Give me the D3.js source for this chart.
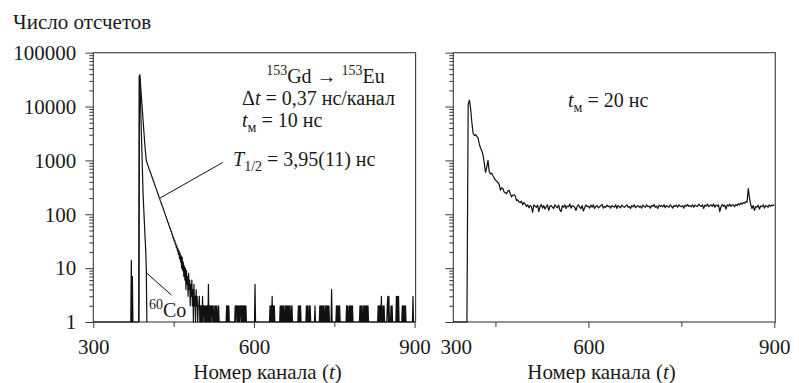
<!DOCTYPE html>
<html><head><meta charset="utf-8">
<script src="https://cdn.jsdelivr.net/npm/d3@7"></script>
</head><body style="margin:0">
<svg id="c" width="799" height="383" font-family="Liberation Serif" style="font-family:'Liberation Serif'"></svg>
<script>
// ---------- DATA ----------
// Left panel: counts per channel, channel 300..900 (step 1)
const leftStart = 300;
const leftCounts = [
1,1,1,1,1,1,1,1,1,1, 1,1,1,1,1,1,1,1,1,1, 1,1,1,1,1,1,1,1,1,1,
1,1,1,1,1,1,1,1,1,1, 1,1,1,1,1,1,1,1,1,1, 1,1,1,1,1,1,1,1,1,1,
1,1,1,1,1,1,1,1,1,1,
1,14,1,7,1,1,1,1,1,1,
1,1,1,1,1,1,36000,39000,28000,20000,
14500,10500,7600,5500,4000,2900,2100,1600,1250,1000,
920,860,800,760,700,670,620,590,545,515,
480,455,420,400,370,350,325,305,290,268,
255,235,222,205,195,180,172,158,150,140,
133,122,118,106,103,93,90,82,79,71,
70,63,61,55,54,48,48,42,42,36,
37,32,33,28,29,24,26,21,23,18,
21,15,19,13,17,10,16,9,13,7,
11,6,10,4,9,5,7,3,8,4,
6,2,5,3,6,2,4,1,5,2,
3,1,4,2,3,1,2,2,3,1,
2,1,2,1,3,1,2,2,1,2,
1,2,1,2,1,5,1,2,1,2,
1,2,2,1,2,1,1,2,1,2,
1,2,1,1,2,1,1,1,1,1,
1,1,1,1,1,1,1,1,1,2,
1,2,1,2,1,1,1,1,1,1,
1,1,1,1,1,2,1,2,2,1,
2,1,2,1,2,2,1,2,1,2,
1,2,1,2,1,2,1,1,1,1,
1,1,1,1,1,1,1,1,1,1,
1,1,5,1,1,1,1,1,1,1,
1,1,1,1,1,1,1,1,1,1,
1,1,1,1,1,1,1,1,1,1,
2,1,2,1,3,1,2,1,2,1,
1,1,1,1,1,1,1,1,1,2,
1,2,1,2,1,2,1,1,2,1,
2,1,2,1,2,1,2,1,1,2,
1,2,1,1,1,1,1,1,1,1,
1,1,1,2,1,2,1,2,1,1,
1,1,1,1,1,1,1,1,2,1,
2,1,1,2,1,2,1,1,1,1,
1,1,1,1,2,1,1,1,1,1,
1,1,1,2,1,2,1,2,1,2,
1,2,1,1,2,1,2,1,2,1,
2,1,1,1,1,4,1,1,1,1,
1,1,1,1,2,1,2,1,2,1,
2,1,1,1,1,1,1,1,1,1,
1,1,1,2,1,2,1,1,2,1,
2,1,2,1,2,1,1,1,1,1,
1,1,1,1,1,1,1,1,2,1,
2,1,2,1,1,2,1,2,1,2,
1,2,1,2,1,1,1,1,1,1,
1,1,1,1,1,1,1,1,1,1,
1,1,2,1,2,1,2,1,3,1,
1,2,1,2,1,1,1,1,1,2,
3,1,3,1,1,1,2,1,2,1,
1,1,1,1,1,1,3,1,3,1,
3,1,1,1,1,1,1,2,1,2,
1,2,1,2,1,1,1,1,1,1,
1,1,1,1,1,1,1,3,1,1,
1
];
// Left panel: 60Co prompt curve, channels 385..400
const coStart = 385;
const coCounts = [1,37000,30000,14000,6000,2700,1200,520,230,140,85,52,32,20,9,1];

// Right panel: counts every 2 channels starting at channel 382
const rightStart = 382, rightStep = 2;
const rightCounts = [
1,1,1,1,1,1,1,1,1,1,1,1,
11000,13200,9000,5000,3200,2900,3000,2800,2600,2000,
1700,1500,1250,900,600,750,1000,620,560,580,
520,470,430,410,390,360,280,310,300,260,
250,240,270,280,240,210,225,230,220,180,
185,170,165,175,150,165,155,
140,150,132,145,138,108,150,142,135,148,
112,140,152,130,145,125,138,150,118,142,
145,135,128,150,140,132,148,120,112,145,
135,150,128,142,138,155,130,145,140,135,
118,142,150,135,128,145,115,132,150,138,
142,130,148,135,150,128,140,145,132,138,
145,152,130,140,135,148,138,142,130,145,
140,135,150,128,145,138,132,148,140,135,
142,150,135,140,128,145,138,150,132,140,
145,135,142,130,148,140,135,150,138,142,
130,145,140,152,135,142,128,148,140,145,
138,150,132,145,140,135,150,142,130,145,
140,148,135,150,142,138,145,130,148,140,
152,140,145,138,150,135,148,142,140,155,
145,140,150,128,148,142,155,138,145,150,
140,155,135,148,142,150,112,138,152,140,
148,125,150,142,155,140,148,150,138,152,
145,158,150,162,155,165,160,172,168,300,
200,150,128,145,118,140,135,148,125,142,
138,150,130,145,142,135,150,140,148,145,
150
];

// Axis ticks / labels
const yMajorTicks = [1, 10, 100, 1000, 10000, 100000];
const xMajorTicks = [300, 600, 900];
const xMinorTicks = [450, 750];
const rightMajorTicks = [600, 900];
const rightEdgeLabel = "300";
const yTitle = "Число отсчетов";
const xTitle = "Номер канала";

// ---------- DRAW ----------
const FONT = "Liberation Serif";
const svg = d3.select("#c");
const yTop = 52.7, yBot = 322;
const y = d3.scaleLog().domain([1, 100000]).range([yBot, yTop]);
const xL = d3.scaleLinear().domain([300, 900]).range([93.3, 414.6]);
const xR = d3.scaleLinear().domain([382, 900]).range([453.3, 774.3]);

function setFont(sel) {
  return sel.attr("font-family", FONT).style("font-family", `'${FONT}'`, "important");
}
function addText(sel, size) {
  return setFont(sel.append("text").attr("font-size", size).attr("fill", "#1a1a1a"));
}

const yMinorTicks = [];
for (let k = 0; k < 5; k++) for (let m = 2; m <= 9; m++) yMinorTicks.push(m * Math.pow(10, k));

const leftData = leftCounts.map((v, i) => ({c: leftStart + i, v}));
const coData = coCounts.map((v, i) => ({c: coStart + i, v}));
const rightData = rightCounts.map((v, i) => ({c: rightStart + i * rightStep, v}));

function panel(x, data, extra, labels) {
  const g = svg.append("g");
  const [x0, x1] = x.range();
  g.append("rect").attr("x", x0).attr("y", yTop).attr("width", x1 - x0 + 1).attr("height", yBot - yTop)
    .attr("fill", "none").attr("stroke", "#3a3a3a").attr("stroke-width", 1.1);
  const ya = d3.axisLeft(y).tickValues(yMajorTicks).tickSize(8).tickPadding(9)
    .tickFormat(labels ? d3.format("d") : () => "");
  const gy = g.append("g").attr("transform", `translate(${x0},0)`).call(ya);
  const ym = d3.axisLeft(y).tickValues(yMinorTicks).tickSize(4).tickFormat(() => "");
  const gym = g.append("g").attr("transform", `translate(${x0},0)`).call(ym);
  [gy, gym].forEach(s => { setFont(s); s.select(".domain").remove(); s.selectAll("line").attr("stroke", "#3a3a3a"); });
  setFont(gy.selectAll("text").attr("font-size", 21).attr("fill", "#1a1a1a"));
  const line = d3.line().x(d => x(d.c)).y(d => y(Math.max(1, d.v)));
  g.append("path").datum(data).attr("d", line).attr("fill", "none").attr("stroke", "#111").attr("stroke-width", 1.2).attr("stroke-linejoin", "round");
  if (extra) g.append("path").datum(extra).attr("d", line).attr("fill", "none").attr("stroke", "#111").attr("stroke-width", 1.2);
  return g;
}

const gl = panel(xL, leftData, coData, true);
const gr = panel(xR, rightData, null, false);

function xAxis(g, x, major, minor) {
  const a = d3.axisBottom(x).tickValues(major).tickSize(6).tickPadding(11).tickFormat(d3.format("d"));
  const s = g.append("g").attr("transform", `translate(0,${yBot})`).call(a);
  const m = g.append("g").attr("transform", `translate(0,${yBot})`).call(d3.axisBottom(x).tickValues(minor).tickSize(5).tickFormat(() => ""));
  [s, m].forEach(t => { setFont(t); t.select(".domain").remove(); t.selectAll("line").attr("stroke", "#3a3a3a"); });
  setFont(s.selectAll("text").attr("font-size", 21).attr("fill", "#1a1a1a"));
  return s;
}
xAxis(gl, xL, xMajorTicks, xMinorTicks);
xAxis(gr, xR, rightMajorTicks, xMinorTicks);
const r0 = xR.range()[0];
addText(svg, 21).attr("x", r0 + 3).attr("y", yBot + 32).attr("text-anchor", "middle").text(rightEdgeLabel);

addText(svg, 21).attr("x", 13).attr("y", 29).text(yTitle);
function xTitleText(cx) {
  const t = addText(svg, 21).attr("x", cx).attr("y", 379).attr("text-anchor", "middle");
  t.append("tspan").text(xTitle + " (");
  t.append("tspan").attr("font-style", "italic").text("t");
  t.append("tspan").text(")");
}
xTitleText(267.5);
xTitleText(601.5);

const SUB = 14;
let t = addText(svg, 20).attr("x", 325.5).attr("y", 83).attr("text-anchor", "middle");
t.append("tspan").attr("font-size", SUB).attr("dy", -8).text("153");
t.append("tspan").attr("dy", 8).text("Gd → ");
t.append("tspan").attr("font-size", SUB).attr("dy", -8).text("153");
t.append("tspan").attr("dy", 8).text("Eu");

t = addText(svg, 20).attr("x", 242).attr("y", 105);
t.append("tspan").text("Δ");
t.append("tspan").attr("font-style", "italic").text("t");
t.append("tspan").text(" = 0,37 нс/канал");

function tm(xp, yp, val) {
  const s = addText(svg, 20).attr("x", xp).attr("y", yp);
  s.append("tspan").attr("font-style", "italic").text("t");
  s.append("tspan").attr("font-size", SUB).attr("dy", 5).text("м");
  s.append("tspan").attr("dy", -5).text(" = " + val + " нс");
}
tm(242, 127, "10");
tm(568, 107, "20");

t = addText(svg, 20).attr("x", 233).attr("y", 166);
t.append("tspan").attr("font-style", "italic").text("T");
t.append("tspan").attr("font-size", SUB).attr("dy", 5).text("1/2");
t.append("tspan").attr("dy", -5).text(" = 3,95(11) нс");

t = addText(svg, 20).attr("x", 149).attr("y", 317);
t.append("tspan").attr("font-size", SUB).attr("dy", -8).text("60");
t.append("tspan").attr("dy", 8).text("Co");

svg.append("line").attr("x1", xL(424.5)).attr("y1", y(200)).attr("x2", xL(542)).attr("y2", y(918))
  .attr("stroke", "#111").attr("stroke-width", 1);
svg.append("line").attr("x1", xL(399.7)).attr("y1", y(8.1)).attr("x2", xL(446)).attr("y2", y(3.16))
  .attr("stroke", "#111").attr("stroke-width", 1);
</script>
</body></html>
